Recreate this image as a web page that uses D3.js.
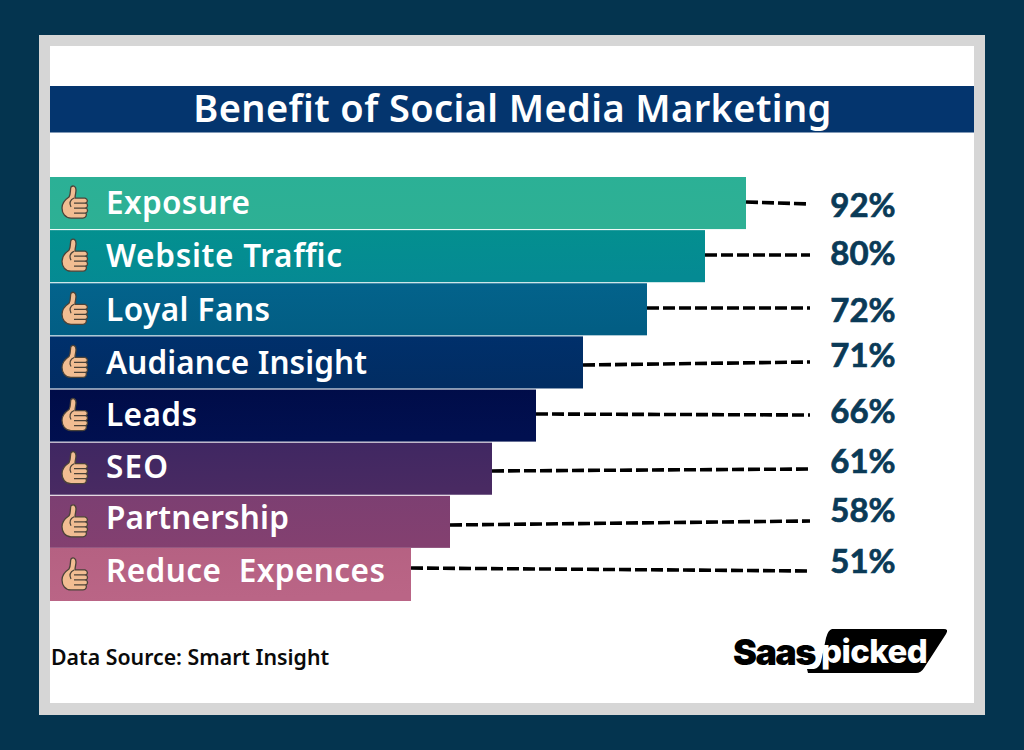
<!DOCTYPE html>
<html><head><meta charset="utf-8">
<script src="https://cdn.jsdelivr.net/npm/d3@7/dist/d3.min.js"></script>
<style>html,body{margin:0;padding:0;background:#04344f;overflow:hidden}</style>
</head><body><svg id="c" width="1024" height="750"></svg>
<script>
const categories=["Exposure","Website Traffic","Loyal Fans","Audiance Insight","Leads","SEO","Partnership","Reduce  Expences"];
const values=[92,80,72,71,66,61,58,51];
const tickLabels=["92%","80%","72%","71%","66%","61%","58%","51%"];
const colorsTop=["#2bb096","#03908f","#03638c","#00306c","#000c48","#3f2762","#7c3f72","#b56182"];
const colorsBot=["#2eb094","#058a93","#025e84","#012d63","#011050","#492a62","#834070","#ba6586"];

const svg=d3.select("#c");
const sans="'Noto Sans','Open Sans',sans-serif";
svg.append("rect").attr("width",1024).attr("height",750).attr("fill","#04344f");
svg.append("rect").attr("x",39).attr("y",35).attr("width",946).attr("height",680).attr("fill","#d6d6d6");
svg.append("rect").attr("x",50).attr("y",46).attr("width",924).attr("height",657).attr("fill","#fff");
svg.append("rect").attr("x",50).attr("y",86).attr("width",924).attr("height",46.5).attr("fill","#04356e");
svg.append("text").attr("x",512.5).attr("y",122).attr("text-anchor","middle").attr("fill","#fff")
  .attr("font-family",sans).attr("font-weight",600).attr("font-size",38).attr("letter-spacing",0.4).text("Benefit of Social Media Marketing");

const y=d3.scaleBand().domain(categories).range([177,601]).paddingInner(0.02);
// The picture's bar lengths are not proportional to the values, so the scale is piecewise.
const x=d3.scaleLinear().domain(values).range([746,705,647,583,536,492,450,411]);
const x0=50;
const defs=svg.append("defs");
categories.forEach((c,i)=>{
  const g=defs.append("linearGradient").attr("id","g"+i).attr("x1",0).attr("x2",0.15).attr("y1",0).attr("y2",1);
  g.append("stop").attr("offset",0).attr("stop-color",colorsTop[i]);
  g.append("stop").attr("offset",1).attr("stop-color",colorsBot[i]);
});
const rows=categories.map((c,i)=>({c,v:values[i],i}));
svg.selectAll("rect.bar").data(rows).join("rect").attr("class","bar")
  .attr("x",x0).attr("y",d=>y(d.c)-(d.i===7?1:0)).attr("width",d=>x(d.v)-x0).attr("height",d=>y.bandwidth()+(d.i===7?1:0))
  .attr("fill",d=>`url(#g${d.i})`);

const lineStart=[202,255,308,365,414,471,525,568];
const lineEnd=[204,255,308,362,415,469,521,571];
const lineStop=[810,810,810,810,810,808,810,810];
const labelY=[217,265,322,367,423,473,522,573];
svg.selectAll("line.lead").data(rows).join("line").attr("class","lead")
  .attr("x1",d=>x(d.v)).attr("x2",d=>lineStop[d.i]).attr("y1",d=>lineStart[d.i]).attr("y2",d=>lineEnd[d.i])
  .attr("stroke","#000").attr("stroke-width",3.6).attr("stroke-dasharray","12 4");
svg.selectAll("text.val").data(rows).join("text").attr("class","val")
  .attr("x",863).attr("y",d=>labelY[d.i]).attr("text-anchor","middle").attr("fill","#0a3a57")
  .attr("stroke","#0a3a57").attr("stroke-width",0.7)
  .attr("font-family","Lato,Inter,sans-serif").attr("font-weight",700).attr("font-size",33)
  .text(d=>tickLabels[d.i]);
const labelBase=[214,267,321,374,426,478,529,582];
const labelWidth=[144,236,164,261,91,62,183,279];
svg.selectAll("text.cat").data(rows).join("text").attr("class","cat")
  .attr("x",106).attr("y",d=>labelBase[d.i]).attr("fill","#fff").style("white-space","pre")
  .attr("font-family",sans).attr("font-weight",600).attr("font-size",31.5)
  .attr("textLength",d=>labelWidth[d.i]).attr("lengthAdjust","spacing").text(d=>d.c);

// thumbs-up icon
const thumbs=svg.selectAll("g.th").data(rows).join("g").attr("class","th")
  .attr("transform",d=>`translate(75,${y(d.c)+y.bandwidth()/2})`);
thumbs.append("path")
  .attr("d","M-13,5 C-13,-1 -9,-4 -6,-6 C-4,-9 -5,-14 -4,-16 C-2,-18 1,-17 1,-13 C1,-10 0,-8 0,-5 L10,-5 C13,-4 13,-1 11,0 C13,1 13,4 11,5 C13,6 13,9 11,10 C12,12 11,15 8,15 L-4,15 C-10,15 -13,10 -13,5 Z")
  .attr("fill","#f1bd92").attr("stroke","#4a4238").attr("stroke-width",1.3);
thumbs.append("path").attr("d","M-1,0 L11,0 M-1,5 L11,5 M-1,10 L11,10 M-1,-5 C-5,-3 -6,0 -4,4").attr("stroke","#4a4238").attr("stroke-width",1.2).attr("fill","none");

svg.append("text").attr("x",51).attr("y",665).attr("fill","#0a0a0a").attr("font-family",sans)
  .attr("font-weight",600).attr("font-size",21.3).text("Data Source: Smart Insight");

// logo
svg.append("text").attr("x",733).attr("y",665).attr("fill","#000").attr("font-family","Inter,sans-serif")
  .attr("font-weight",900).attr("font-size",36).attr("letter-spacing",-1.6).text("Saas");
svg.append("path").attr("d","M832,629 L944,629 Q949,629 946,634 L924,668 Q921,673 916,673 L808,673 L807,669 L814,669 Q819,668 821,662 L826,638 Q828,630 832,629 Z").attr("fill","#000");
svg.append("text").attr("x",821).attr("y",663).attr("fill","#fff").attr("font-family","Inter,sans-serif")
  .attr("font-weight",800).attr("font-size",33).attr("letter-spacing",-0.6).text("picked");
</script></body></html>
